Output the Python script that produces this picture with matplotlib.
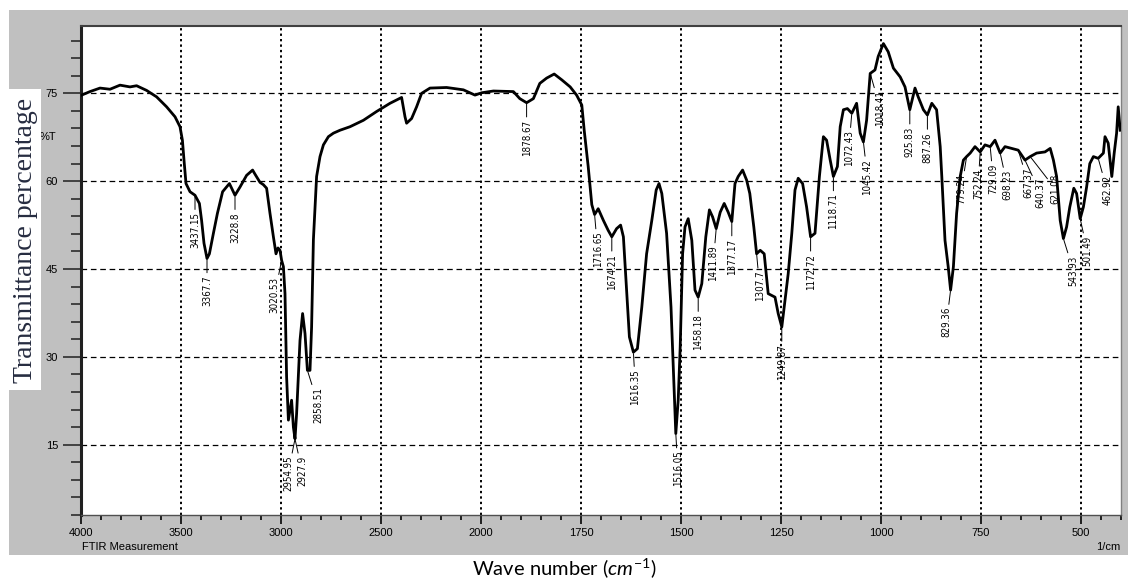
import numpy as np
import matplotlib
matplotlib.use("Agg")
import matplotlib.pyplot as plt
from matplotlib import font_manager
from matplotlib.patches import Rectangle
from matplotlib.ticker import FixedLocator, MultipleLocator, FuncFormatter

# spectrum (wavenumber in 1/cm, transmittance in %)
wavenumber = [3997, 3955, 3905, 3855, 3805, 3755, 3722, 3672, 3622, 3572, 3530, 3505,
              3493, 3485, 3475, 3455, 3430, 3408, 3397, 3385, 3370, 3358, 3338, 3318,
              3292, 3258, 3230, 3205, 3172, 3142, 3130, 3105, 3088, 3072, 3055, 3038,
              3025, 3015, 3005, 2997, 2988, 2980, 2972, 2963, 2947, 2938, 2930, 2922,
              2905, 2892, 2880, 2868, 2855, 2847, 2838, 2822, 2805, 2788, 2763, 2738,
              2705, 2655, 2588, 2522, 2455, 2397, 2380, 2372, 2347, 2322, 2297, 2255,
              2172, 2088, 2030, 1998, 1969, 1919, 1903, 1886, 1869, 1853, 1836, 1817,
              1798, 1777, 1761, 1748, 1742, 1732, 1723, 1716, 1707, 1694, 1682, 1673,
              1661, 1651, 1644, 1636, 1629, 1619, 1609, 1598, 1586, 1573, 1562, 1555,
              1548, 1536, 1525, 1519, 1513, 1507, 1502, 1496, 1490, 1482, 1473, 1465,
              1457, 1448, 1438, 1429, 1421, 1412, 1402, 1392, 1382, 1373, 1365, 1357,
              1346, 1336, 1328, 1318, 1311, 1302, 1292, 1282, 1265, 1257, 1248, 1240,
              1232, 1223, 1215, 1207, 1196, 1186, 1176, 1165, 1154, 1144, 1136, 1127,
              1119, 1109, 1102, 1094, 1084, 1073, 1061, 1052, 1044, 1036, 1027, 1015,
              1007, 994, 982, 969, 952, 940, 928, 915, 907, 894, 884, 873,
              861, 852, 848, 840, 832, 826, 819, 811, 802, 794, 786, 777,
              765, 752, 740, 727, 715, 702, 690, 673, 657, 640, 627, 611,
              590, 577, 569, 561, 552, 544, 536, 528, 518, 511, 502, 494,
              486, 478, 469, 457, 444, 440, 432, 423, 417, 411, 407, 402]
transmittance = [74.7, 75.3, 75.9, 75.7, 76.4, 76.1, 76.3, 75.5, 74.4, 72.7, 71.0, 69.3,
                 67.0, 63.6, 59.6, 58.2, 57.6, 56.2, 53.3, 49.4, 46.8, 47.6, 51.1, 54.5,
                 58.2, 59.6, 57.6, 59.0, 61.0, 61.9, 61.2, 59.8, 59.4, 58.8, 54.5, 50.5,
                 47.6, 48.6, 48.2, 46.5, 45.4, 40.8, 26.6, 19.2, 22.6, 18.0, 16.0, 20.3,
                 32.8, 37.4, 34.0, 27.7, 27.7, 35.1, 50.0, 60.8, 64.2, 66.2, 67.6, 68.2,
                 68.7, 69.3, 70.4, 71.9, 73.3, 74.3, 71.0, 69.9, 70.7, 72.7, 75.0, 75.9,
                 76.0, 75.6, 74.7, 75.1, 75.4, 75.3, 74.1, 73.4, 74.1, 76.7, 77.6, 78.3,
                 77.3, 76.1, 74.7, 73.0, 68.7, 62.5, 56.0, 54.3, 55.3, 53.3, 51.6, 50.5,
                 51.9, 52.5, 50.5, 41.4, 33.4, 30.8, 31.4, 38.5, 47.6, 53.3, 58.5, 59.6,
                 57.9, 51.1, 38.5, 27.7, 16.9, 22.6, 31.7, 47.6, 52.2, 53.6, 49.9, 41.4,
                 40.2, 42.5, 50.5, 55.1, 53.9, 51.9, 54.7, 56.2, 54.7, 53.1, 59.6, 60.8,
                 61.9, 60.2, 57.9, 52.2, 47.6, 48.2, 47.6, 40.8, 40.2, 37.4, 35.1, 39.7,
                 44.2, 51.1, 58.5, 60.5, 59.6, 55.6, 50.5, 51.1, 60.8, 67.6, 67.0, 63.6,
                 60.8, 62.5, 69.3, 72.2, 72.4, 71.6, 73.3, 68.2, 66.7, 70.4, 78.4, 79.0,
                 81.3, 83.5, 82.1, 79.3, 77.8, 76.1, 72.2, 75.9, 74.4, 72.2, 71.3, 73.3,
                 72.2, 65.9, 60.8, 49.9, 45.4, 41.4, 45.4, 54.5, 60.8, 63.6, 64.2, 64.8,
                 65.9, 65.0, 66.2, 65.9, 67.0, 64.8, 65.9, 65.6, 65.3, 63.6, 64.2, 64.8,
                 65.0, 65.6, 63.6, 60.8, 53.3, 50.2, 52.2, 55.6, 58.8, 57.9, 53.6, 55.6,
                 59.0, 63.0, 64.2, 63.9, 64.8, 67.6, 66.5, 60.8, 64.8, 68.2, 72.7, 68.7]

peak_labels = ["3437.15", "3367.7", "3228.8", "3020.53", "2954.95", "2927.9", "2858.51",
               "1878.67", "1716.65", "1674.21", "1616.35", "1516.05", "1458.18",
               "1411.89", "1377.17", "1307.7", "1249.87", "1172.72", "1118.71",
               "1072.43", "1045.42", "1018.41", "925.83", "887.26", "829.36", "779.24",
               "752.24", "729.09", "698.23", "667.37", "640.37", "621.08", "543.93",
               "501.49", "462.92"]
# sideways nudge of each peak label, in pixels
label_nudge = [0, 0, 0, -7, -7, 7, 11,
               0, 3, 0, 2, 2, 0,
               -3, 0, 3, 0, 0, 0,
               -3, 4, 10, 0, 0, -4, -5,
               -2, 3, 7, 10, 15, 25, 10,
               7, 9]

x_major = [4000, 3500, 3000, 2500, 2000, 1750, 1500, 1250, 1000, 750, 500]
y_major = [15, 30, 45, 60, 75]

W, H = 1128, 584
plt.rcParams['font.family'] = ['Liberation Sans', 'DejaVu Sans']
plt.rcParams['mathtext.fontset'] = 'custom'
plt.rcParams['mathtext.rm'] = 'Lato'
plt.rcParams['mathtext.it'] = 'Lato:italic'

# condensed face for the peak labels if there is one
peak_font = font_manager.FontProperties(family='Liberation Sans', size=6.4)
cond = font_manager.FontProperties(family='DejaVu Sans', stretch='condensed', size=7)
if 'Condensed' in font_manager.findfont(cond):
    peak_font = cond


# FTIR axis: 500 per division above 2000, 250 per division below
def fwd(x):
    x = np.asarray(x, float)
    return np.where(x >= 2000, (x - 4000) / 500.0, (x - 2000) / 250.0 - 4)


def inv(p):
    p = np.asarray(p, float)
    return np.where(p >= -4, 4000 + 500 * p, 2000 + 250 * (p + 4))


fig = plt.figure(figsize=(W / 100, H / 100), dpi=100)
fig.patch.set_facecolor('white')
fig.patches.append(Rectangle((9 / W, 1 - 555 / H), (W - 9) / W, 545 / H,
                             transform=fig.transFigure, facecolor='#c0c0c0',
                             edgecolor='none', zorder=-1))

ax = fig.add_axes([81 / W, 1 - 515 / H, 1040 / W, 489 / H])
ax.set_facecolor('white')
ax.set_xscale('function', functions=(fwd, inv))
ax.set_xlim(4000, 400)
ax.set_ylim(3, 86.5)

ax.plot(wavenumber, transmittance, color='black', lw=2.0, zorder=3)

# label each peak below the lowest nearby point of the trace
wn = np.array(wavenumber, float)
tr = np.array(transmittance, float)
pos = fwd(wn)
for lbl, nudge in zip(peak_labels, label_nudge):
    p0 = fwd(float(lbl))
    near = np.abs(pos - p0) <= 0.05
    if near.any():
        k = np.where(near)[0][np.argmin(tr[near])]
        x, y = wn[k], tr[k]
    else:
        x = float(lbl)
        y = np.interp(x, wn[::-1], tr[::-1])
    ax.annotate(lbl, xy=(x, y), xytext=(nudge, -17), textcoords='offset pixels',
                rotation=90, ha='center', va='top', fontproperties=peak_font,
                arrowprops=dict(arrowstyle='-', lw=0.7, color='black',
                                shrinkA=0, shrinkB=1), zorder=4)

ax.xaxis.set_major_locator(FixedLocator(x_major))
ax.xaxis.set_minor_locator(FixedLocator(list(np.arange(4000, 2000, -100)) +
                                        list(np.arange(2000, 399, -50))))
ax.xaxis.set_major_formatter(FuncFormatter(lambda v, p: '%d' % round(v)))
ax.yaxis.set_major_locator(FixedLocator(y_major))
ax.yaxis.set_minor_locator(MultipleLocator(3))
ax.yaxis.set_major_formatter(FuncFormatter(lambda v, p: '%d' % round(v)))

ax.tick_params(axis='x', which='major', direction='out', length=6.5, width=1.4,
               labelsize=8, pad=3, color='#202020')
ax.tick_params(axis='x', which='minor', direction='out', length=3.5, width=1.4,
               color='#202020')
ax.tick_params(axis='y', which='major', direction='out', length=13, width=1.1,
               labelsize=8, pad=3.5, color='#202020')
ax.tick_params(axis='y', which='minor', direction='out', length=7, width=1.1,
               color='#202020')

ax.grid(True, axis='x', which='major', color='black', lw=1.4, ls=(0, (1.2, 1.6)))
ax.grid(True, axis='y', which='major', color='black', lw=0.9, ls=(0, (4.5, 3)))

ax.spines['left'].set_linewidth(2.2)
ax.spines['left'].set_color('#202020')
ax.spines['bottom'].set_linewidth(1.0)
ax.spines['bottom'].set_color('#505050')
ax.spines['top'].set_linewidth(1.5)
ax.spines['top'].set_color('#404040')
ax.spines['right'].set_linewidth(1.0)
ax.spines['right'].set_color('#808080')

fig.text(82 / W, 1 - 547 / H, 'FTIR Measurement', fontsize=8, ha='left', va='center')
fig.text(1120 / W, 1 - 547 / H, '1/cm', fontsize=8, ha='right', va='center')
fig.text(40 / W, 1 - 137 / H, '%T', fontsize=8, ha='left', va='center', zorder=0.5)

fig.patches.append(Rectangle((9 / W, 1 - 390 / H), 32 / W, 301 / H,
                             transform=fig.transFigure, facecolor='white',
                             edgecolor='none', zorder=1))
fig.text(26 / W, 1 - 240 / H, 'Transmittance percentage', rotation=90,
         family='Liberation Serif', fontsize=20, color='#262c40',
         ha='center', va='center', zorder=2)

fig.text(0.5, 1 - 568 / H, 'Wave number ($cm^{-1}$)', family='Lato', fontsize=14.5,
         ha='center', va='center')

fig.savefig('out.png', dpi=100)
